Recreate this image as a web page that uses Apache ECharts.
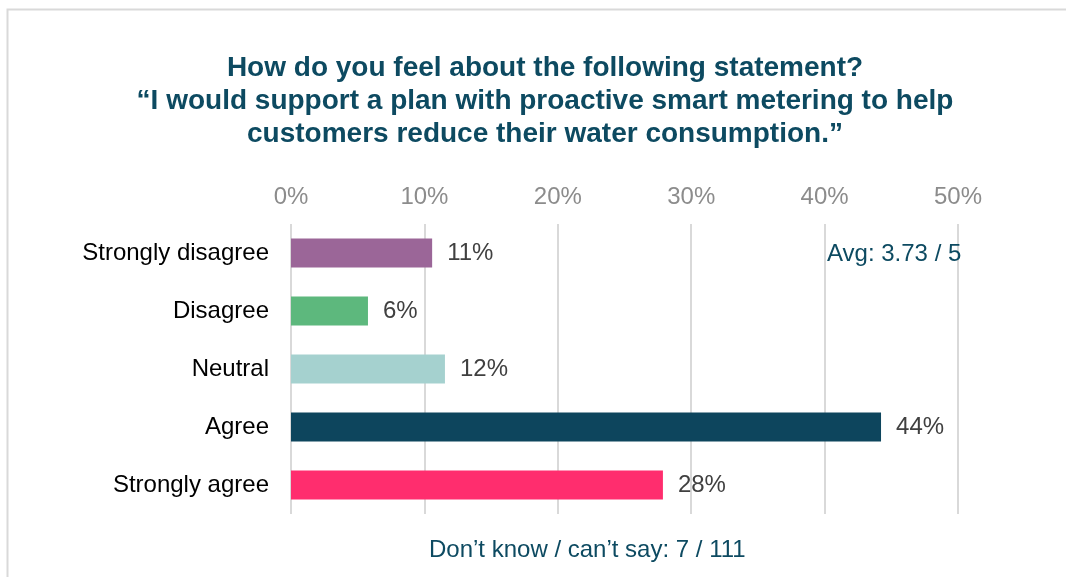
<!DOCTYPE html>
<html>
<head>
<meta charset="utf-8">
<script src="https://cdn.jsdelivr.net/npm/echarts@6/dist/echarts.min.js"></script>
<style>
  html, body { margin: 0; padding: 0; background: #ffffff; }
  #chart { width: 1066px; height: 577px; }
</style>
</head>
<body>
<div id="chart"></div>
<script>
// Survey responses (share of 104 valid answers, in %)
const categories = ['Strongly disagree', 'Disagree', 'Neutral', 'Agree', 'Strongly agree'];
const shares = [10.58, 5.77, 11.54, 44.23, 27.88];
const barColors = ['#9B6698', '#5DB87D', '#A5D1CF', '#0D455D', '#FF2D6E'];
const tickMax = 50;
const tickStep = 10;

const titleLines = [
  'How do you feel about the following statement?',
  '\u201CI would support a plan with proactive smart metering to help',
  'customers reduce their water consumption.\u201D'
];
const averageText = 'Avg: 3.73 / 5';
const dontKnowText = 'Don\u2019t know / can\u2019t say: 7 / 111';

const FONT = '"Liberation Sans", Arial, sans-serif';
const BODY = 24;
const chart = echarts.init(document.getElementById('chart'), null, { renderer: 'canvas' });

chart.setOption({
  animation: false,
  backgroundColor: '#ffffff',
  title: {
    text: titleLines.join('\n'),
    left: 540,
    textAlign: 'center',
    top: 47,
    textStyle: {
      fontFamily: FONT,
      fontSize: 28,
      fontWeight: 'bold',
      color: '#0D4A61',
      lineHeight: 33
    }
  },
  grid: { left: 291, right: 108, top: 224, bottom: 63, containLabel: false },
  xAxis: {
    type: 'value',
    position: 'top',
    min: 0,
    max: tickMax,
    interval: tickStep,
    axisLine: { show: false },
    axisTick: { show: false },
    axisLabel: {
      margin: 15,
      formatter: v => v + '%',
      fontFamily: FONT,
      fontSize: BODY,
      color: '#8C8C8C'
    },
    splitLine: { show: true, lineStyle: { color: '#D9D9D9', width: 2 } }
  },
  yAxis: {
    type: 'category',
    inverse: true,
    data: categories,
    axisLine: { show: false },
    axisTick: { show: false },
    axisLabel: {
      margin: 22,
      fontFamily: FONT,
      fontSize: BODY,
      color: '#000000'
    }
  },
  series: [{
    type: 'bar',
    barWidth: '50%',
    data: shares.map((v, i) => ({ value: v, itemStyle: { color: barColors[i] } })),
    label: {
      show: true,
      position: 'right',
      distance: 15,
      formatter: p => Math.round(p.value) + '%',
      fontFamily: FONT,
      fontSize: BODY,
      color: '#404040'
    }
  }],
  graphic: [
    {
      type: 'rect',
      shape: { x: 7.5, y: 9.5, width: 1070, height: 600 },
      style: { fill: 'none', stroke: '#D9D9D9', lineWidth: 2 },
      silent: true
    },
    {
      type: 'text',
      left: 827,
      top: 242,
      z: 100,
      style: { text: averageText, fontFamily: FONT, fontSize: BODY, fill: '#0D4A61' }
    },
    {
      type: 'text',
      left: 429,
      top: 538,
      z: 100,
      style: { text: dontKnowText, fontFamily: FONT, fontSize: BODY, fill: '#0D4A61' }
    }
  ]
});
</script>
</body>
</html>
